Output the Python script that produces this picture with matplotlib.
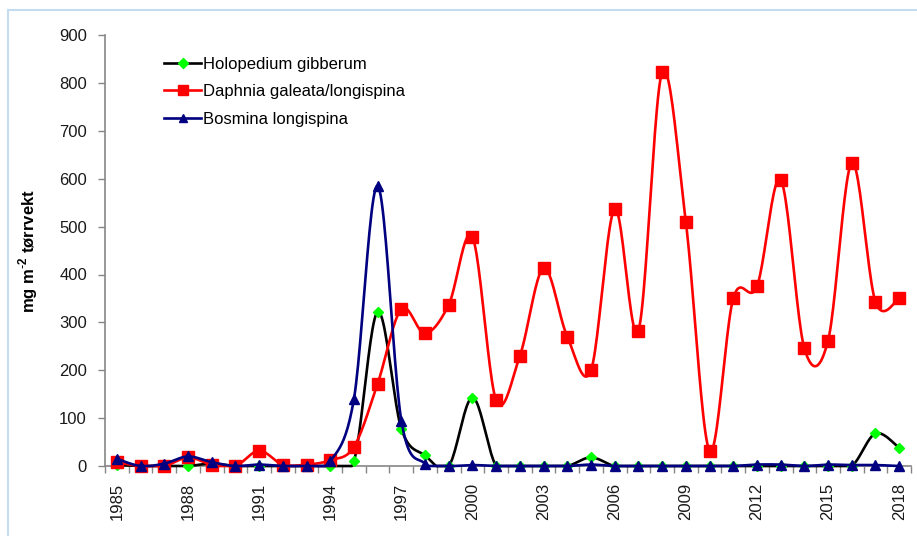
import numpy as np
import matplotlib
matplotlib.use("Agg")
import matplotlib.pyplot as plt
from matplotlib.lines import Line2D

plt.rcParams["font.family"] = ["Liberation Sans", "DejaVu Sans"]

years = list(range(1985, 2019))

holopedium = [2, 0, 0, 0, 5, 0, 0, 0, 0, 0, 10, 322, 78, 22, 0, 143, 0,
              0, 0, 0, 18, 0, 0, 0, 0, 0, 0, 0, 0, 0, 0, 0, 68, 38]
daphnia = [8, 0, 0, 18, 3, 0, 32, 3, 3, 12, 40, 172, 328, 277, 337, 478, 137,
           230, 413, 270, 200, 537, 283, 822, 510, 32, 350, 375, 598, 246,
           262, 633, 343, 350]
bosmina = [15, 0, 5, 20, 8, 0, 3, 0, 0, 10, 140, 585, 95, 5, 0, 2, 0,
           0, 0, 0, 3, 0, 0, 0, 0, 0, 0, 3, 3, 0, 3, 2, 2, 0]

series_names = ["Holopedium gibberum", "Daphnia galeata/longispina",
                "Bosmina longispina"]
tick_years = list(range(1985, 2019, 3))
y_ticks = list(range(0, 901, 100))


def smooth(x, y, n=24):
    """Glatt kurve (Catmull-Rom som Bezier), omtrent som Excel."""
    x = np.asarray(x, float)
    y = np.asarray(y, float)
    px = np.concatenate([[x[0]], x, [x[-1]]])
    py = np.concatenate([[y[0]], y, [y[-1]]])
    t = np.linspace(0, 1, n)
    xs, ys = [], []
    for i in range(1, len(px) - 2):
        p0x, p1x, p2x, p3x = px[i - 1], px[i], px[i + 1], px[i + 2]
        p0y, p1y, p2y, p3y = py[i - 1], py[i], py[i + 1], py[i + 2]
        c1x, c1y = p1x + (p2x - p0x) / 6, p1y + (p2y - p0y) / 6
        c2x, c2y = p2x - (p3x - p1x) / 6, p2y - (p3y - p1y) / 6
        b0 = (1 - t) ** 3
        b1 = 3 * (1 - t) ** 2 * t
        b2 = 3 * (1 - t) * t ** 2
        b3 = t ** 3
        xs.append(b0 * p1x + b1 * c1x + b2 * c2x + b3 * p2x)
        ys.append(b0 * p1y + b1 * c1y + b2 * c2y + b3 * p2y)
    return np.concatenate(xs), np.concatenate(ys)


fig = plt.figure(figsize=(9.17, 5.40), dpi=100)
ax = fig.add_axes([0.1145, 0.137, 0.879, 0.798])

styles = [
    dict(color="black", marker="D", mfc="#00ff00", mec="#00ff00", ms=5.5),
    dict(color="#ff0000", marker="s", mfc="#ff0000", mec="#ff0000", ms=8.5),
    dict(color="#000080", marker="^", mfc="#000080", mec="#000080", ms=7.5),
]

handles = []
for k, (vals, st) in enumerate(zip([holopedium, daphnia, bosmina], styles)):
    sx, sy = smooth(years, vals)
    sy = np.clip(sy, 0, None)
    ax.plot(sx, sy, color=st["color"], lw=1.9, zorder=3 + k,
            solid_capstyle="round", clip_on=False)
    ax.plot(years, vals, ls="none", marker=st["marker"], mfc=st["mfc"],
            mec=st["mec"], ms=st["ms"], zorder=3 + k, clip_on=False)
    handles.append(Line2D([], [], color=st["color"], lw=1.9,
                          marker=st["marker"], mfc=st["mfc"], mec=st["mec"],
                          ms=st["ms"] * 0.85))

ax.set_xlim(1984.5, 2018.5)
ax.set_ylim(0, 900)
ax.set_yticks(y_ticks)
ax.set_xticks(tick_years)
ax.set_xticklabels([str(y) for y in tick_years], rotation=90)
ax.set_xticks(np.arange(1984.5, 2019, 1), minor=True)

ax.tick_params(axis="x", which="major", length=0, pad=12, labelsize=12,
               labelcolor="#1a1a1a")
ax.tick_params(axis="x", which="minor", length=5, width=1, color="#868686",
               direction="out")
ax.tick_params(axis="y", which="major", length=5, width=1, color="#868686",
               pad=8, labelsize=12, labelcolor="#1a1a1a")

for s in ["top", "right"]:
    ax.spines[s].set_visible(False)
for s in ["left", "bottom"]:
    ax.spines[s].set_color("#868686")
    ax.spines[s].set_linewidth(1.2)

ax.set_ylabel("mg m$^{\\mathregular{\\text{-}2}}$ tørrvekt", fontsize=12,
              fontweight="bold", labelpad=14)

ax.legend(handles, series_names, loc="upper left",
          bbox_to_anchor=(0.055, 0.985), frameon=False, fontsize=12,
          handlelength=2.2, handletextpad=0.15, labelspacing=0.75)

# lys blå ramme rundt figuren
fig.add_artist(Line2D([8 / 917, 8 / 917], [0.01, 1 - 10 / 540],
                      transform=fig.transFigure, color="#c5dcf0", lw=1.5))
fig.add_artist(Line2D([8 / 917, 1.0], [1 - 10 / 540, 1 - 10 / 540],
                      transform=fig.transFigure, color="#c5dcf0", lw=1.5))

fig.savefig("out.png", dpi=100)
plt.close()
